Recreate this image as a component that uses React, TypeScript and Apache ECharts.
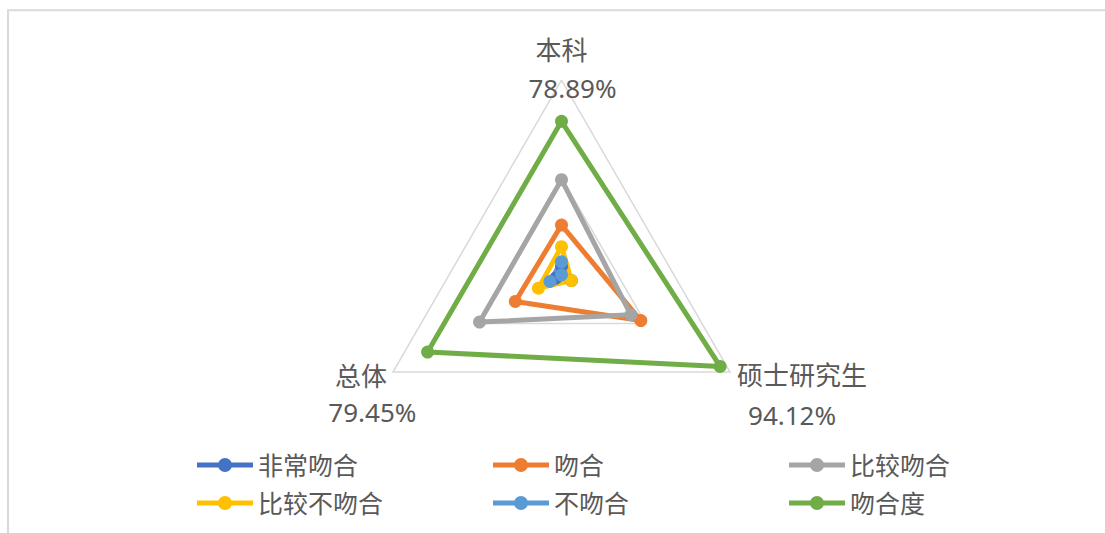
import React, { useEffect, useRef } from 'react';
import * as echarts from 'echarts';

// Indicator order (counter-clockwise from top): 本科 (top), 总体 (bottom-left), 硕士研究生 (bottom-right)
const indicators = ['本科', '总体', '硕士研究生'];
const seriesNames = ['非常吻合', '吻合', '比较吻合', '比较不吻合', '不吻合', '吻合度'];
// values in percent, same order as indicators
const veryMatch = [4.44, 3.42, 5.88];
const match = [25.56, 27.4, 47.06];
const fairlyMatch = [48.89, 48.63, 41.18];
const fairlyNotMatch = [14.44, 13.7, 5.88];
const notMatch = [6.67, 6.85, 0];
const matchRate = [78.89, 79.45, 94.12];
const seriesValues = [veryMatch, match, fairlyMatch, fairlyNotMatch, notMatch, matchRate];
const colors = ['#4472C4', '#ED7D31', '#A5A5A5', '#FFC000', '#5B9BD5', '#70AD47'];

const FONT = '"Noto Sans", "Noto Sans CJK SC", sans-serif';
const TEXT = '#595959';

export default function App() {
  const ref = useRef<HTMLDivElement>(null);
  useEffect(() => {
    if (!ref.current) return;
    const chart = echarts.init(ref.current, undefined, { renderer: 'svg' });
    const base = { fontSize: 26, color: TEXT, fontFamily: FONT, lineHeight: 38 };
    const option = {
      animation: false,
      backgroundColor: '#ffffff',
      graphic: [
        {
          type: 'rect',
          shape: { x: 8, y: 10.3, width: 1200, height: 600 },
          style: { fill: 'none', stroke: '#D9D9D9', lineWidth: 2 },
          silent: true,
        },
      ],
      radar: {
        center: [561.5, 274.8],
        radius: 194.6,
        startAngle: 90,
        splitNumber: 2,
        shape: 'polygon',
        nameGap: -27,
        indicator: indicators.map((n) => ({ name: n, max: 100, min: 0 })),
        axisLine: { show: false },
        axisTick: { show: false },
        axisLabel: { show: false },
        splitArea: { show: false },
        splitLine: { lineStyle: { color: '#D9D9D9', width: 1.5 } },
        axisName: {
          color: TEXT,
          fontFamily: FONT,
          fontSize: 26,
          formatter: (name: string) => {
            const i = indicators.indexOf(name);
            return `{n${i}|${name}}\n{v${i}|${matchRate[i].toFixed(2)}%}`;
          },
          rich: {
            n0: { ...base },
            v0: { ...base, padding: [0, 0, 0, 22] },
            n1: { ...base, padding: [73, 29.4, 0, 0] },
            v1: { ...base, padding: [69, 0, 0, 0] },
            n2: { ...base, padding: [71, 0, 0, 30.4] },
            v2: { ...base, padding: [75, 0, 0, 41.4] },
          },
        },
      },
      legend: {
        left: 197,
        top: 446,
        width: 900,
        padding: 0,
        itemGap: 0,
        itemWidth: 56,
        itemHeight: 14,
        icon: 'path://M0,4.5L56,4.5L56,9.5L0,9.5Z M35,7A7,7,0,1,1,21,7A7,7,0,1,1,35,7Z',
        itemStyle: { borderWidth: 0 },
        data: seriesNames,
        formatter: (name: string) => `{a|${name}}`,
        textStyle: {
          color: TEXT,
          fontFamily: FONT,
          fontSize: 25,
          lineHeight: 38,
          height: 38,
          rich: { a: { width: 235, height: 38, fontSize: 25, color: TEXT, fontFamily: FONT, lineHeight: 38 } },
        },
      },
      series: seriesNames.map((name, i) => ({
        type: 'radar',
        name,
        symbol: 'circle',
        symbolSize: 13,
        itemStyle: { color: colors[i] },
        lineStyle: { color: colors[i], width: 5 },
        data: [{ name, value: seriesValues[i] }],
      })),
    };
    chart.setOption(option as any);
    return () => chart.dispose();
  }, []);
  return (
    <div
      ref={ref}
      style={{ position: 'absolute', left: 0, top: 0, width: 1105, height: 533 }}
    />
  );
}
